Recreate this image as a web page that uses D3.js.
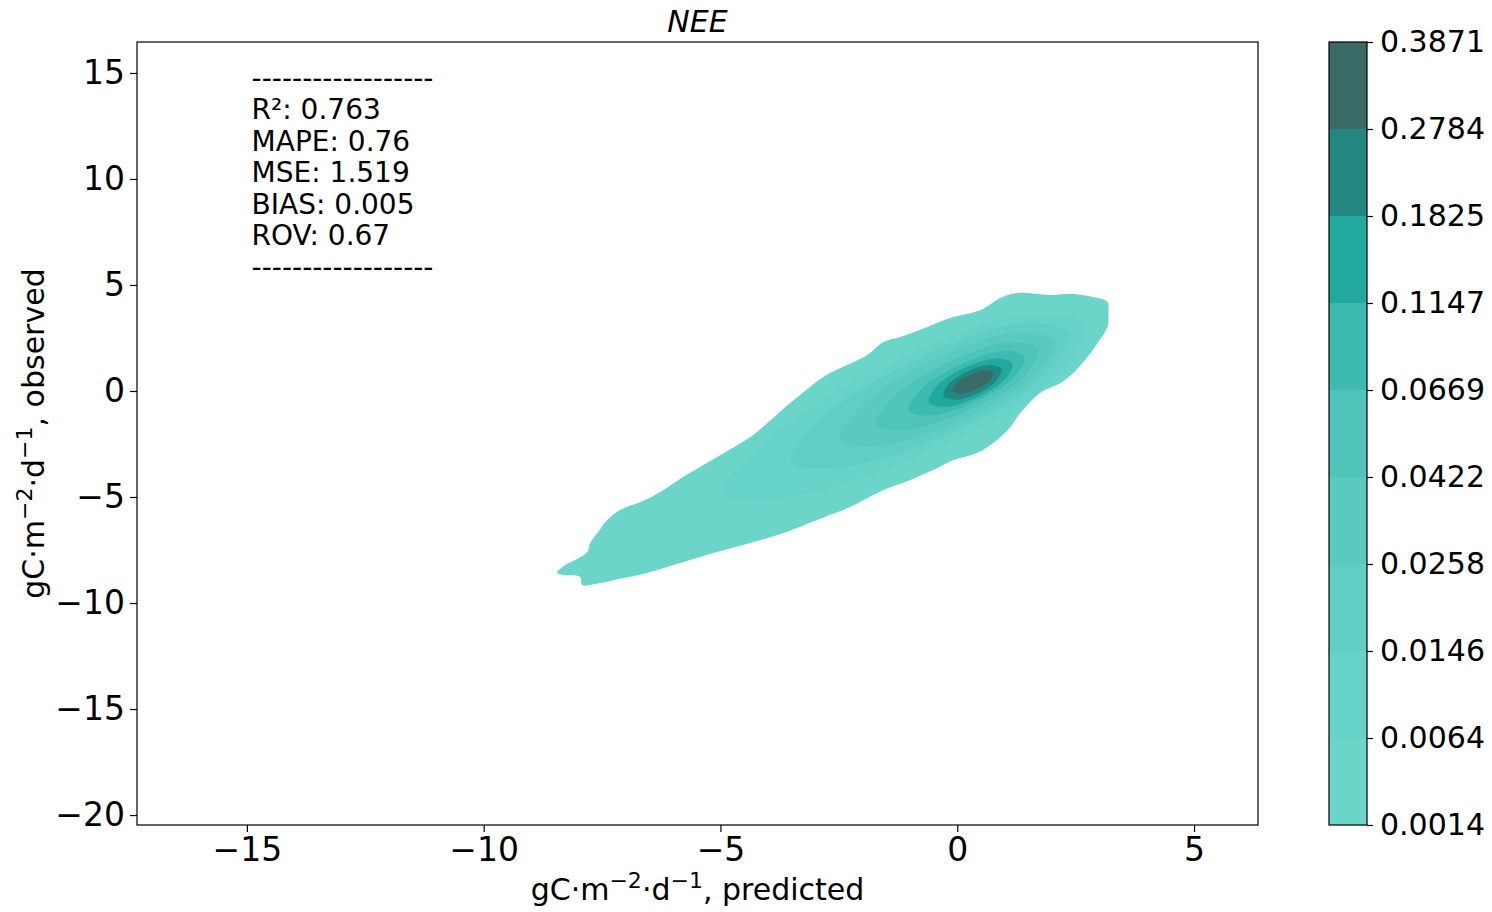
<!DOCTYPE html>
<html>
<head>
<meta charset="utf-8">
<script src="https://cdn.jsdelivr.net/npm/d3@7"></script>
<style>
  body { margin: 0; background: #fff; }
  text { font-family: "DejaVu Sans", sans-serif; fill: #000; }
</style>
</head>
<body>
<script>
// niveaux de densité (bornes des bandes) et couleurs des bandes
const levels = [0.0014, 0.0064, 0.0146, 0.0258, 0.0422, 0.0669, 0.1147, 0.1825, 0.2784, 0.3871]
const bandColors = ["#6cd5ca", "#67d2c7", "#61cec3", "#5acabf", "#4fc5b9", "#3dbbb0", "#22a99e", "#22887f", "#3a6b67"]

const xTicks = [-15, -10, -5, 0, 5]
const yTicks = [15, 10, 5, 0, -5, -10, -15, -20]

const statNames = ["R²", "MAPE", "MSE", "BIAS", "ROV"]
const statValues = ["0.763", "0.76", "1.519", "0.005", "0.67"]

const contour1 = [[-8.45,-8.58],[-8.28,-8.21],[-8.03,-7.92],[-7.81,-7.59],[-7.75,-7.17],[-7.60,-6.70],[-7.39,-6.08],
  [-7.12,-5.61],[-6.69,-5.24],[-6.27,-4.76],[-5.79,-4.06],[-5.07,-3.11],[-4.37,-2.17],[-3.89,-1.27],[-3.53,-0.57],
  [-3.32,-0.19],[-2.83,0.66],[-2.47,1.08],[-1.90,1.70],[-1.56,2.31],[-1.20,2.55],[-0.63,3.02],[-0.15,3.44],
  [0.49,3.82],[0.91,4.39],[1.27,4.62],[1.96,4.53],[2.45,4.58],[2.87,4.43],[3.17,4.20],[3.19,3.68],[3.17,3.02],
  [2.96,2.26],[2.75,1.60],[2.45,0.85],[2.18,0.38],[1.75,-0.09],[1.33,-1.04],[1.12,-1.70],[0.84,-2.31],
  [0.42,-2.92],[-0.08,-3.25],[-0.51,-3.73],[-0.99,-4.20],[-1.56,-4.67],[-2.26,-5.47],[-2.96,-6.08],
  [-3.67,-6.70],[-4.37,-7.17],[-5.15,-7.64],[-5.85,-8.11],[-6.55,-8.58],[-7.05,-8.82],[-7.54,-9.06],
  [-7.92,-9.15],[-7.96,-8.77],[-8.28,-8.68]]
const contour2 = [[2.70,3.10],[1.50,3.61],[-0.79,1.96],[-3.91,-2.03],[-4.95,-4.88],[-3.30,-4.93],[0.07,-2.15],[2.11,0.71]]
const contour3 = [[2.34,2.74],[1.36,3.18],[-0.51,1.85],[-2.77,-1.12],[-3.50,-3.35],[-2.26,-3.53],[0.21,-1.57],[1.86,0.77]]
const contour4 = [[2.03,2.38],[1.23,2.76],[-0.28,1.69],[-1.95,-0.55],[-2.47,-2.31],[-1.53,-2.55],[0.32,-1.13],[1.65,0.77]]
const contour5 = [[1.70,1.97],[1.09,2.29],[-0.06,1.49],[-1.32,-0.22],[-1.71,-1.58],[-0.99,-1.79],[0.40,-0.74],[1.42,0.72]]
const contour6 = [[1.42,1.62],[0.96,1.88],[0.10,1.28],[-0.77,0.07],[-1.03,-0.93],[-0.52,-1.14],[0.45,-0.43],[1.21,0.67]]
const contour7 = [[1.16,1.30],[0.81,1.53],[0.17,1.11],[-0.44,0.23],[-0.60,-0.53],[-0.23,-0.74],[0.46,-0.26],[1.01,0.56]]
const contour8 = [[0.93,1.04],[0.68,1.23],[0.23,0.94],[-0.18,0.32],[-0.29,-0.24],[-0.03,-0.41],[0.45,-0.09],[0.83,0.50]]
const contour9 = [[0.76,0.86],[0.59,0.98],[0.27,0.76],[-0.01,0.35],[-0.08,-0.01],[0.09,-0.13],[0.41,0.09],[0.69,0.50]]
const contours = [contour1, contour2, contour3, contour4, contour5, contour6, contour7, contour8, contour9]

//------------------------------------------------------------------------------

const W = 1492, H = 912
const plot = { left: 137, right: 1258, top: 42, bottom: 825 }
const cbar = { left: 1329, right: 1367 }

const svg = d3.select("body").append("svg")
    .attr("width", W)
    .attr("height", H)

const x = d3.scaleLinear().domain([-17.32, 6.35]).range([plot.left, plot.right])
const y = d3.scaleLinear().domain([-20.47, 16.46]).range([plot.bottom, plot.top])

//------------------------------------------------------------------------------

// bandes de densité, de l'extérieur vers l'intérieur
const line = d3.line()
    .x(d => x(d[0]))
    .y(d => y(d[1]))
    .curve(d3.curveCatmullRomClosed.alpha(0.5))

svg.append("g")
    .selectAll("path")
    .data(contours)
    .join("path")
    .attr("d", line)
    .attr("fill", (d, i) => bandColors[i])

//------------------------------------------------------------------------------

// axes
const xAxis = svg.append("g")
    .attr("transform", "translate(0," + plot.bottom + ")")
    .call(d3.axisBottom(x).tickValues(xTicks).tickSize(7).tickPadding(6).tickFormat(d3.format("d")))
const yAxis = svg.append("g")
    .attr("transform", "translate(" + plot.left + ",0)")
    .call(d3.axisLeft(y).tickValues(yTicks).tickSize(7).tickPadding(5).tickFormat(d3.format("d")))

;[xAxis, yAxis].forEach(g => {
    g.select(".domain").remove()
    g.selectAll(".tick line").attr("stroke", "#000").attr("stroke-width", 1.2)
    g.selectAll(".tick text").style("font-size", "33px").style("font-family", "DejaVu Sans")
})

svg.append("rect")
    .attr("x", plot.left)
    .attr("y", plot.top)
    .attr("width", plot.right - plot.left)
    .attr("height", plot.bottom - plot.top)
    .attr("fill", "none")
    .attr("stroke", "#000")
    .attr("stroke-width", 1.2)

// titre
svg.append("text")
    .attr("x", (plot.left + plot.right) / 2)
    .attr("y", 32)
    .attr("text-anchor", "middle")
    .style("font-size", "30px")
    .style("font-style", "italic")
    .text("NEE")

// libellés des axes avec exposants
function unitLabel(sel, suffix) {
    sel.append("tspan").text("gC·m")
    sel.append("tspan").attr("dy", -12).style("font-size", "22px").text("−2")
    sel.append("tspan").attr("dy", 12).text("·d")
    sel.append("tspan").attr("dy", -12).style("font-size", "22px").text("−1")
    sel.append("tspan").attr("dy", 12).text(suffix)
}

svg.append("text")
    .attr("x", (plot.left + plot.right) / 2)
    .attr("y", 900)
    .attr("text-anchor", "middle")
    .style("font-size", "30px")
    .call(unitLabel, ", predicted")

svg.append("text")
    .attr("transform", "translate(44," + (plot.top + plot.bottom) / 2 + ") rotate(-90)")
    .attr("text-anchor", "middle")
    .style("font-size", "30px")
    .call(unitLabel, ", observed")

//------------------------------------------------------------------------------

// bloc de statistiques
const stats = svg.append("g").style("font-size", "28px")
const dash = "-".repeat(18)
const lineH = 31.5
const statsX = x(-14.9)
stats.append("text").attr("x", statsX).attr("y", 88).text(dash)
statNames.forEach((name, i) => {
    stats.append("text")
        .attr("x", statsX)
        .attr("y", 119 + i * lineH)
        .text(name + ": " + statValues[i])
})
stats.append("text").attr("x", statsX).attr("y", 277).text(dash)

//------------------------------------------------------------------------------

// barre de couleurs
const cy = d3.scalePoint().domain(d3.range(levels.length)).range([plot.bottom, plot.top])

svg.append("g")
    .selectAll("rect")
    .data(bandColors)
    .join("rect")
    .attr("x", cbar.left)
    .attr("width", cbar.right - cbar.left)
    .attr("y", (d, i) => cy(i + 1))
    .attr("height", (d, i) => cy(i) - cy(i + 1))
    .attr("fill", d => d)

svg.append("rect")
    .attr("x", cbar.left)
    .attr("y", plot.top)
    .attr("width", cbar.right - cbar.left)
    .attr("height", plot.bottom - plot.top)
    .attr("fill", "none")
    .attr("stroke", "#000")
    .attr("stroke-width", 1.2)

const cAxis = svg.append("g")
    .attr("transform", "translate(" + cbar.right + ",0)")
    .call(d3.axisRight(cy).tickSize(6).tickPadding(7).tickFormat(i => levels[i].toFixed(4)))
cAxis.select(".domain").remove()
cAxis.selectAll(".tick line").attr("stroke", "#000").attr("stroke-width", 1.2)
cAxis.selectAll(".tick text").style("font-size", "30px").style("font-family", "DejaVu Sans")
</script>
</body>
</html>
